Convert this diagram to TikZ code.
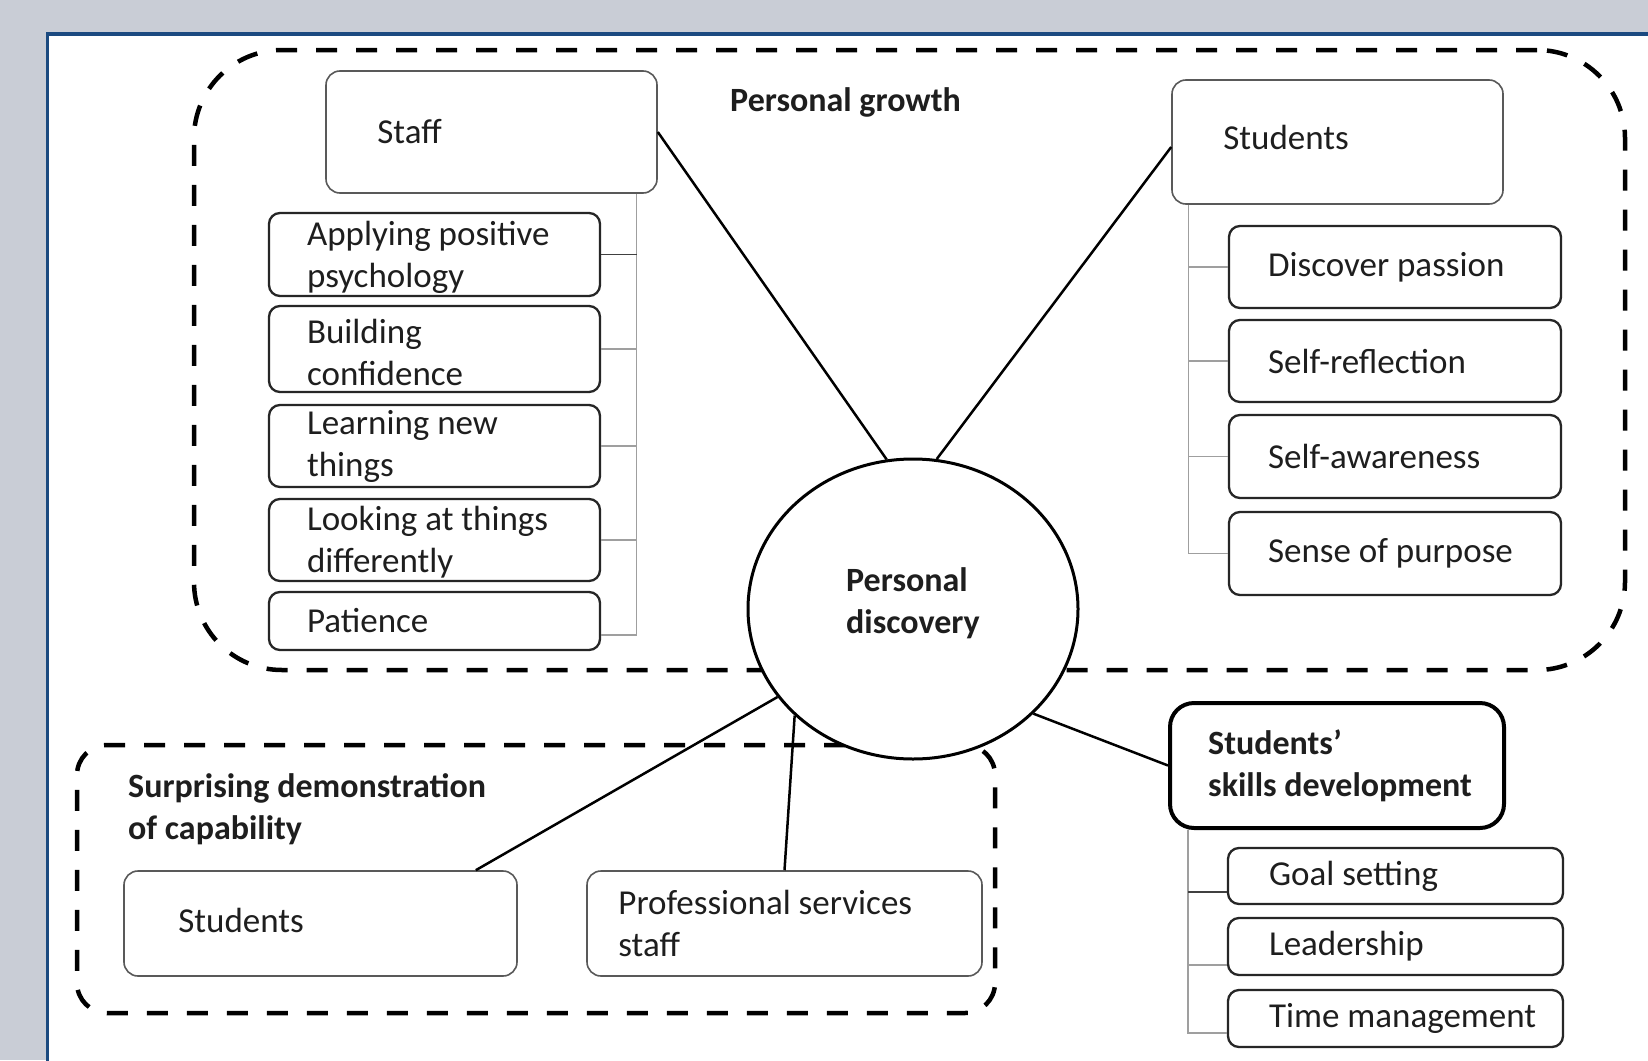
\documentclass[tikz,border=0pt]{standalone}
\usepackage{fontspec}
\setmainfont{Carlito}
\usetikzlibrary{shapes.geometric,calc}
\definecolor{pagebg}{HTML}{C9CDD6}
\definecolor{framecol}{HTML}{1B4A80}
\definecolor{ink}{HTML}{1E1E1E}
\begin{document}
\begin{tikzpicture}[x=1pt,y=-1pt,
  every node/.style={font=\fontsize{35}{42}\selectfont, text=ink},
  head/.style={font=\fontsize{34}{42}\selectfont\bfseries},
  headbox/.style={draw=black!65, line width=1.6pt, rounded corners=14pt, fill=white, inner sep=0pt},
  itembox/.style={draw=black!85, line width=2.3pt, rounded corners=11pt, fill=white, inner sep=0pt},
  keybox/.style={draw=black, line width=4pt, rounded corners=24pt, fill=white, inner sep=0pt},
  txt/.style={anchor=west, align=left, inner sep=0pt},
  group/.style={draw=black, line width=4.5pt, dash pattern=on 21pt off 19pt, inner sep=0pt},
  tree/.style={draw=gray!75, line width=1.3pt},
  treedark/.style={draw=black!75, line width=1.5pt},
  link/.style={draw=black, line width=2.5pt},
]
\useasboundingbox (0,0) rectangle (1648,1060);
% page and framed panel
\fill[pagebg] (0,0) rectangle (1648,1060);
\fill[white] (47.5,34) rectangle (1660,1070);
\draw[framecol, line width=3.5pt] (47.5,1070) -- (47.5,34) -- (1660,34);

% dashed groups
\node[group, rounded corners=88pt, minimum width=1431pt, minimum height=620pt] (growth) at (909.5,360) {};
\node[group, rounded corners=30pt, minimum width=918pt, minimum height=268pt] (surprise) at (536,879) {};
\node[txt, head] (growthlbl) at (730,102) {Personal growth};
\node[txt, head] (surplbl) at (128,809) {Surprising demonstration\\of capability};

% staff branch
\node[headbox, minimum width=331pt, minimum height=122pt] (staff) at (491.5,132) {};
\node[txt] (stafft) at ([xshift=52pt]staff.west) {Staff};
\node[itembox, minimum width=331pt, minimum height=83pt] (c1) at (434.5,254.5) {};
\node[itembox, minimum width=331pt, minimum height=86pt] (c2) at (434.5,349) {};
\node[itembox, minimum width=331pt, minimum height=82pt] (c3) at (434.5,446) {};
\node[itembox, minimum width=331pt, minimum height=82pt] (c4) at (434.5,540) {};
\node[itembox, minimum width=331pt, minimum height=58pt] (c5) at (434.5,621) {};
\node[txt] (c1t) at ([xshift=39pt, yshift=-3pt]c1.west) {Applying positive\\psychology};
\node[txt] (c2t) at ([xshift=39pt, yshift=-3pt]c2.west) {Building\\confidence};
\node[txt] (c3t) at ([xshift=39pt]c3.west) {Learning new\\things};
\node[txt] (c4t) at ([xshift=39pt, yshift=-2pt]c4.west) {Looking at things\\differently};
\node[txt] (c5t) at ([xshift=39pt]c5.west) {Patience};
\coordinate (st) at ([xshift=-21pt]staff.south east);
\draw[tree] (st) |- ([yshift=-14pt]c5.east);
\foreach \n in {c2,c3,c4} \draw[tree] (\n.east) -- (\n.east -| st);
\draw[treedark] (c1.east) -- (c1.east -| st);

% students branch (personal growth)
\node[headbox, minimum width=331pt, minimum height=124pt] (stud) at (1337.5,142) {};
\node[txt] (studt) at ([xshift=52pt, yshift=5pt]stud.west) {Students};
\node[itembox, minimum width=332pt, minimum height=82pt] (s1) at (1395,267) {};
\node[itembox, minimum width=332pt, minimum height=82pt] (s2) at (1395,361) {};
\node[itembox, minimum width=332pt, minimum height=83pt] (s3) at (1395,456.5) {};
\node[itembox, minimum width=332pt, minimum height=83pt] (s4) at (1395,553.5) {};
\node[txt] (s1t) at ([xshift=40pt]s1.west) {Discover passion};
\node[txt] (s2t) at ([xshift=40pt]s2.west) {Self-reflection};
\node[txt] (s3t) at ([xshift=40pt]s3.west) {Self-awareness};
\node[txt] (s4t) at ([xshift=40pt]s4.west) {Sense of purpose};
\coordinate (ut) at ([xshift=17pt]stud.south west);
\draw[tree] (ut) |- (s4.west);
\foreach \n in {s1,s2,s3} \draw[tree] (\n.west) -- (\n.west -| ut);

% skills branch
\node[keybox, minimum width=334pt, minimum height=125pt] (skills) at (1337,765.5) {};
\node[txt, head] (skillst) at ([xshift=40pt]skills.west) {Students’\\skills development};
\node[itembox, minimum width=335pt, minimum height=56pt] (k1) at (1395.5,876) {};
\node[itembox, minimum width=335pt, minimum height=57pt] (k2) at (1395.5,946.5) {};
\node[itembox, minimum width=335pt, minimum height=57pt] (k3) at (1395.5,1018.5) {};
\node[txt] (k1t) at ([xshift=42pt]k1.west) {Goal setting};
\node[txt] (k2t) at ([xshift=42pt]k2.west) {Leadership};
\node[txt] (k3t) at ([xshift=42pt]k3.west) {Time management};
\coordinate (kt) at ([xshift=20pt]skills.south west);
\draw[tree] (kt) |- ([yshift=-14.5pt]k3.west);
\draw[tree] ([yshift=-18.5pt]k2.west) -- ([yshift=-18.5pt]k2.west -| kt);
\draw[treedark] ([yshift=-16pt]k1.west) -- ([yshift=-16pt]k1.west -| kt);

% surprising demonstration boxes
\node[headbox, minimum width=393pt, minimum height=105pt] (bst) at (320.5,923.5) {};
\node[txt] (bstt) at ([xshift=55pt, yshift=3pt]bst.west) {Students};
\node[headbox, minimum width=395pt, minimum height=105pt] (prof) at (784.5,923.5) {};
\node[txt] (proft) at ([xshift=32pt]prof.west) {Professional services\\staff};

% centre
\node[ellipse, draw=black, fill=white, line width=3pt, minimum width=330pt, minimum height=300pt,
      inner sep=0pt, align=left, head] (pd) at (913,609) {Personal\\discovery\rule[-17pt]{0pt}{0pt}};

% links from the centre
\draw[link] (staff.east) -- (pd.100);
\draw[link] ([yshift=-5pt]stud.west) -- (pd.81);
\draw[link] (pd.319) -- (skills.west);
\draw[link] (pd.213) -- ([xshift=-42pt]bst.north east);
\draw[link] (pd.222) -- (prof.north);
\end{tikzpicture}
\end{document}
